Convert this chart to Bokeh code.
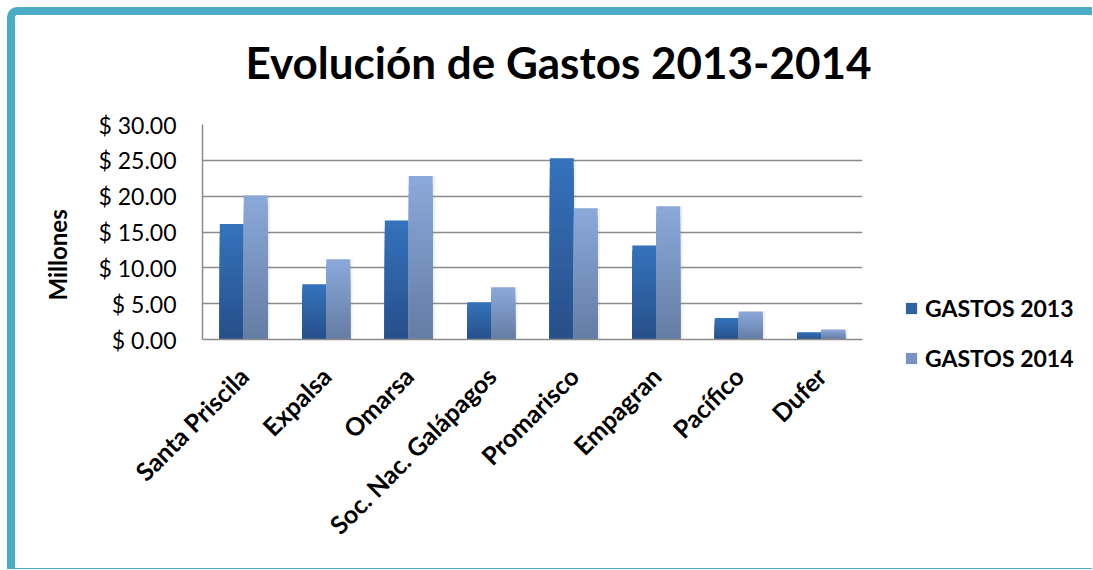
import math
from bokeh.plotting import figure
from bokeh.layouts import row
from bokeh.models import (ColumnDataSource, FactorRange, Range1d, FixedTicker, Legend,
                          LegendItem, Title)
from bokeh.transform import dodge
from bokeh.embed import file_html
from bokeh.resources import INLINE

# ---------------- data ----------------
categories = ["Santa Priscila", "Expalsa", "Omarsa", "Soc. Nac. Galápagos",
              "Promarisco", "Empagran", "Pacífico", "Dufer"]
gastos_2013 = [16.1, 7.7, 16.6, 5.2, 25.3, 13.1, 3.0, 1.0]
gastos_2014 = [20.1, 11.2, 22.8, 7.3, 18.3, 18.6, 3.9, 1.4]
series_names = ["GASTOS 2013", "GASTOS 2014"]
y_ticks = [0, 5, 10, 15, 20, 25, 30]
y_tick_labels = ["$ 0.00", "$ 5.00", "$ 10.00", "$ 15.00", "$ 20.00", "$ 25.00", "$ 30.00"]
title_text = "Evolución de  Gastos 2013-2014"
y_title = "Millones"

FONT = "Lato"
GRID = "#8c8c8c"
TEAL = "#4bacc6"

H = 562
W1 = 880
W2 = 205
p = figure(width=W1, height=H, output_backend="svg", toolbar_location=None,
           x_range=FactorRange(*categories, range_padding=0),
           y_range=Range1d(0, 30),
           min_border_left=187, min_border_right=W1 - 847,
           min_border_top=109, min_border_bottom=H - 324)
p.frame_align = False
p.styles = {"margin-left": "7px", "margin-top": "7px",
            "border-left": "8px solid " + TEAL, "border-top": "8px solid " + TEAL,
            "border-bottom": "1px solid " + TEAL, "border-top-left-radius": "10px"}
p.outline_line_color = None
p.background_fill_color = "white"
p.border_fill_color = "white"

def hex2rgb(h):
    h = h.lstrip("#")
    return [int(h[i:i + 2], 16) for i in (0, 2, 4)]

def mix(c1, c2, t):
    a, b = hex2rgb(c1), hex2rgb(c2)
    return "#%02x%02x%02x" % tuple(int(round(a[i] + (b[i] - a[i]) * t)) for i in range(3))

series = [
    (gastos_2013, -0.145, "#3572bb", "#27508a"),
    (gastos_2014, 0.145, "#8aa8d8", "#667da5"),
]
N = 18
for si, (vals, off, c_top, c_bot) in enumerate(series):
    sh = ColumnDataSource(dict(cat=categories, top=vals))
    p.vbar(x=dodge("cat", off + 0.03, range=p.x_range), top="top", bottom=0, width=0.29,
           source=sh, fill_color="#000000", fill_alpha=0.06, line_color=None)
    for k in range(N):
        frac = (N - k) / N
        src = ColumnDataSource(dict(cat=categories, top=[v * frac for v in vals]))
        p.vbar(x=dodge("cat", off, range=p.x_range), top="top", bottom=0, width=0.29,
               source=src, fill_color=mix(c_top, c_bot, k / (N - 1)), line_color=None)

# axes
p.xgrid.visible = False
p.ygrid.grid_line_color = GRID
p.ygrid.grid_line_width = 1.5
p.yaxis.ticker = FixedTicker(ticks=y_ticks)
p.yaxis.major_label_overrides = {t: l for t, l in zip(y_ticks, y_tick_labels)}
p.yaxis.major_tick_line_color = None
p.yaxis.minor_tick_line_color = None
p.yaxis.axis_line_color = GRID
p.yaxis.axis_line_width = 1.5
p.yaxis.major_label_text_font = FONT
p.yaxis.major_label_text_font_size = "23px"
p.yaxis.major_label_text_color = "black"
p.yaxis.major_label_standoff = 20

# y axis title as a side title (lets it sit lower than the frame centre)
p.add_layout(Title(text=y_title, align="left", offset=39, standoff=48,
                   text_font=FONT, text_font_style="bold", text_font_size="24px",
                   text_color="black"), "left")

p.xaxis.major_label_orientation = math.pi / 4
p.xaxis.major_tick_line_color = None
p.xaxis.minor_tick_line_color = None
p.xaxis.axis_line_color = GRID
p.xaxis.axis_line_width = 1.5
p.xaxis.major_label_text_font = FONT
p.xaxis.major_label_text_font_style = "bold"
p.xaxis.major_label_text_font_size = "25px"
p.xaxis.major_label_text_color = "black"
p.xaxis.major_label_standoff = 26

# main title (outermost) with a thin spacer title between it and the frame
p.title.text = title_text
p.title.align = "left"
p.title.offset = 43
p.title.standoff = 2
p.title.text_font = FONT
p.title.text_font_style = "bold"
p.title.text_font_size = "44px"
p.title.text_color = "black"
p.add_layout(Title(text=" ", text_font_size="1px", standoff=33), "above")

# legend panel (second figure that only carries the legend)
p2 = figure(width=W2, height=H, output_backend="svg", toolbar_location=None,
            x_range=Range1d(0, 1), y_range=Range1d(0, 1),
            min_border_left=0, min_border_right=0, min_border_top=0, min_border_bottom=0)
p2.frame_align = False
p2.styles = {"margin-top": "7px", "border-top": "8px solid " + TEAL,
             "border-bottom": "1px solid " + TEAL}
p2.axis.visible = False
p2.grid.visible = False
p2.outline_line_color = None
p2.background_fill_color = "white"
p2.border_fill_color = "white"

legend_colors = ["#2f61a3", "#7993c0"]
items = []
for name, col in zip(series_names, legend_colors):
    # zero-height proxy bar: only its legend swatch is visible
    r = p2.vbar(x=[0.5], top=[0], bottom=0, width=0.5, fill_color=col, line_color=None)
    items.append(LegendItem(label=name, renderers=[r]))

legend = Legend(items=items, location=(17, 205), orientation="vertical",
                glyph_width=14, glyph_height=14, label_standoff=7, spacing=22,
                padding=0, margin=0, border_line_color=None, background_fill_alpha=0,
                label_text_font=FONT, label_text_font_style="bold",
                label_text_font_size="23px", label_text_color="black")
p2.add_layout(legend, "center")

layout = row(p, p2, spacing=0)
open("out.html", "w").write(file_html(layout, INLINE))
